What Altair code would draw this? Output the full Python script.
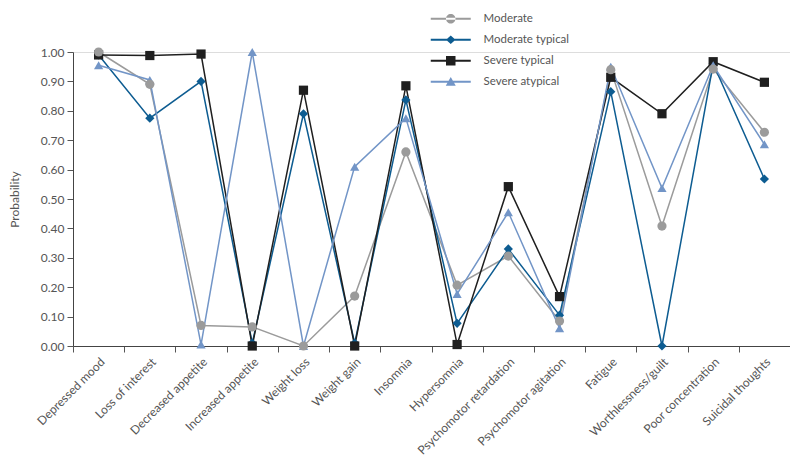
import altair as alt
import pandas as pd

symptoms = ["Depressed mood", "Loss of interest", "Decreased appetite", "Increased appetite",
            "Weight loss", "Weight gain", "Insomnia", "Hypersomnia", "Psychomotor retardation",
            "Psychomotor agitation", "Fatigue", "Worthlessness/guilt", "Poor concentration",
            "Suicidal thoughts"]

series_names = ["Moderate", "Moderate typical", "Severe typical", "Severe atypical"]

moderate = [1.00, 0.89, 0.07, 0.065, 0.00, 0.17, 0.66, 0.207, 0.306, 0.085, 0.94, 0.408, 0.942, 0.727]
moderate_typical = [0.99, 0.775, 0.90, 0.01, 0.79, 0.01, 0.837, 0.077, 0.33, 0.105, 0.865, 0.00, 0.96, 0.568]
severe_typical = [0.99, 0.988, 0.993, 0.00, 0.87, 0.00, 0.885, 0.005, 0.542, 0.168, 0.914, 0.79, 0.967, 0.897]
severe_atypical = [0.955, 0.905, 0.005, 1.00, 0.00, 0.61, 0.775, 0.177, 0.455, 0.06, 0.95, 0.537, 0.955, 0.686]

colors = ["#9b9b9b", "#0d5c91", "#1f1f1f", "#7295c7"]
shapes = ["circle", "diamond", "square", "triangle-up"]
draw_order = [3, 0, 1, 2]

FONT = "Lato"

# legend glyphs: a line with the marker in the middle
legend_line = "M-4,-0.2L4,-0.2L4,0.2L-4,0.2Z"
legend_shapes = [
    legend_line + "M-0.95,0A0.95,0.95 0 1,0 0.95,0A0.95,0.95 0 1,0 -0.95,0Z",
    legend_line + "M0,-0.85L0.95,0L0,0.85L-0.95,0Z",
    legend_line + "M-0.95,-0.95L0.95,-0.95L0.95,0.95L-0.95,0.95Z",
    legend_line + "M0,-0.95L1,0.8L-1,0.8Z",
]

rows = []
for name, vals in zip(series_names, [moderate, moderate_typical, severe_typical, severe_atypical]):
    for s, v in zip(symptoms, vals):
        rows.append({"Symptom": s, "Series": name, "Probability": v,
                     "order": draw_order[series_names.index(name)]})
df = pd.DataFrame(rows)

x = alt.X("Symptom:N", sort=symptoms, title=None,
          scale=alt.Scale(paddingInner=0, paddingOuter=0),
          axis=alt.Axis(labelAngle=315, labelFontSize=12, labelColor="#555555",
                        labelFont=FONT, tickBand="extent", tickSize=6,
                        tickColor="#555555", domainColor="#444444", labelPadding=4,
                        grid=False))
y = alt.Y("Probability:Q", title="Probability",
          scale=alt.Scale(domain=[0, 1], nice=False, zero=True),
          axis=alt.Axis(values=[i / 10 for i in range(11)], format=".2f", labelFontSize=12,
                        labelColor="#555555", labelFont=FONT, tickSize=6,
                        tickColor="#555555", domainColor="#444444", labelPadding=3,
                        titleFont=FONT, titleFontSize=12, titleFontWeight="normal",
                        titleColor="#555555", titlePadding=19, grid=False))

color_scale = alt.Scale(domain=series_names, range=colors)

lines = alt.Chart(df).mark_line(strokeWidth=1.5).encode(
    x=x, y=y,
    color=alt.Color("Series:N", scale=color_scale, legend=None),
    order=alt.Order("order:Q"),
    detail="Series:N",
)

points = alt.Chart(df).mark_point(filled=True, size=85, opacity=1).encode(
    x=x, y=y,
    color=alt.Color("Series:N", scale=color_scale, legend=None),
    shape=alt.Shape("Series:N", scale=alt.Scale(domain=series_names, range=shapes), legend=None),
    order=alt.Order("order:Q"),
)

legend_props = dict(title=None, orient="none", legendX=372, legendY=-39,
                    labelFont=FONT, labelFontSize=11.5, labelColor="#555555",
                    labelOffset=27, rowPadding=8, symbolSize=100,
                    symbolStrokeWidth=0, padding=0)

legend_layer = alt.Chart(df).mark_point(filled=True, size=100, clip=True, opacity=1).encode(
    x=x,
    y=alt.value(-2000),
    color=alt.Color("Series:N", scale=alt.Scale(domain=series_names, range=colors),
                    legend=alt.Legend(**legend_props)),
    shape=alt.Shape("Series:N", scale=alt.Scale(domain=series_names, range=legend_shapes),
                    legend=alt.Legend(**legend_props)),
)

chart = alt.layer(lines, points, legend_layer).resolve_scale(
    color="independent", shape="independent"
).properties(
    width=717, height=294,
    autosize=alt.AutoSizeParams(type="none"),
    padding={"left": 65, "top": 44, "right": 0, "bottom": 114},
).configure_view(stroke=None).configure(background="white")

chart.save("out.html", embed_options={"renderer": "svg", "actions": False})
